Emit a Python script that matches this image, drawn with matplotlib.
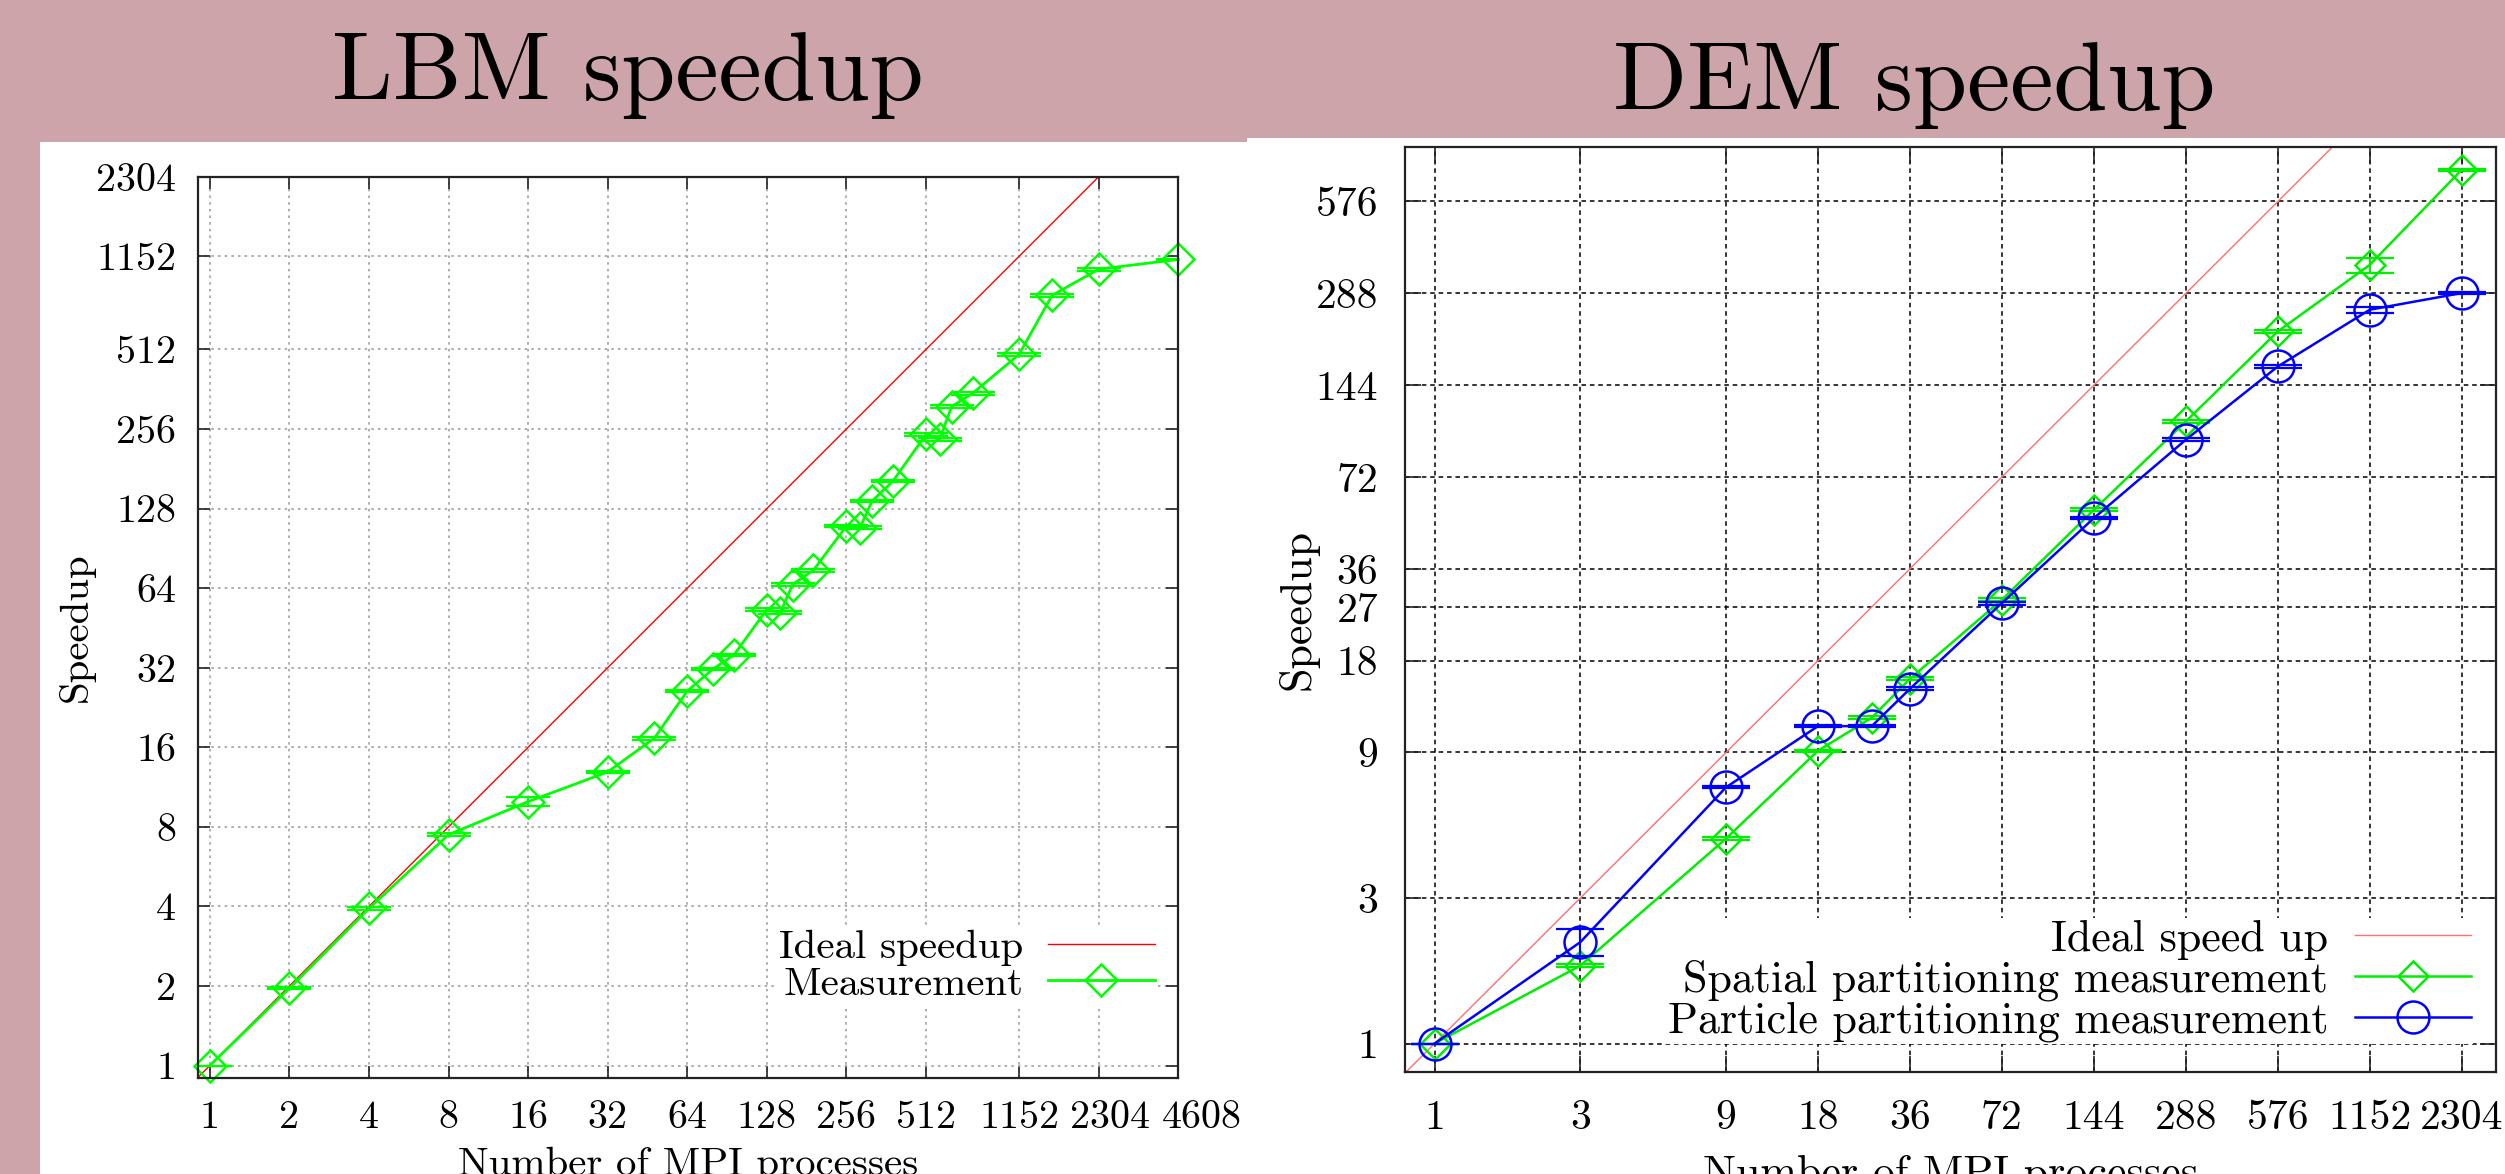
import matplotlib
matplotlib.use("Agg")
import matplotlib.pyplot as plt
from matplotlib.patches import Rectangle
from matplotlib.ticker import NullLocator
from matplotlib.transforms import ScaledTranslation

plt.rcParams['font.family'] = 'cmr10'
plt.rcParams['mathtext.fontset'] = 'cm'
plt.rcParams['axes.unicode_minus'] = False

# ---- LBM speedup data
lbm_procs = [1, 2, 4, 8, 16, 32, 48, 64, 80, 96, 128, 144, 160, 192, 256, 288,
             320, 384, 512, 576, 640, 768, 1152, 1536, 2304, 4608]
lbm_speedup = [1.0, 1.96, 3.93, 7.47, 9.96, 12.9, 17.3, 26.1, 31.6, 35.7, 53.1, 51.6,
               66.0, 74.8, 109.8, 108.3, 136.5, 162.6, 244.0, 233.7, 311.0, 349.0,
               490.0, 820.0, 1029.0, 1121.0]
lbm_err = [0.0, 0.02, 0.04, 0.08, 0.4, 0.15, 0.2, 0.3, 0.35, 0.4, 0.6, 0.6, 0.8, 0.9,
           1.3, 1.3, 1.6, 2.0, 3.0, 3.0, 4.0, 4.0, 6.0, 10.0, 15.0, 5.0]
lbm_xticks = [1, 2, 4, 8, 16, 32, 64, 128, 256, 512, 1152, 2304, 4608]
lbm_yticks = [1, 2, 4, 8, 16, 32, 64, 128, 256, 512, 1152, 2304]

# ---- DEM speedup data
dem_procs = [1, 3, 9, 18, 27, 36, 72, 144, 288, 576, 1152, 2304]
dem_spatial = [1.0, 1.80, 4.70, 9.12, 11.7, 15.7, 28.5, 56.2, 109.5, 216.0, 357.0, 732.0]
dem_spatial_err = [0.0, 0.02, 0.05, 0.08, 0.12, 0.2, 0.3, 0.6, 1.2, 2.5, 20.0, 5.0]
dem_particle = [1.0, 2.15, 6.92, 10.98, 10.98, 14.56, 27.8, 52.8, 95.4, 165.8, 254.5, 288.6]
dem_particle_err = [0.0, 0.22, 0.05, 0.1, 0.1, 0.15, 0.3, 0.5, 1.0, 1.5, 6.0, 2.0]
dem_xticks = [1, 3, 9, 18, 36, 72, 144, 288, 576, 1152, 2304]
dem_yticks = [1, 3, 9, 18, 27, 36, 72, 144, 288, 576]

# ideal speedup y = x
ideal = [0.5, 10000]

W, H = 2505, 1174
PINK = '#cda4a9'
fig = plt.figure(figsize=(W / 100, H / 100), dpi=100, facecolor=PINK)

# white slide panels
fig.add_artist(Rectangle((40 / W, 0), 1207 / W, 1032 / H, transform=fig.transFigure,
                         fc='white', ec='none', zorder=-5))
fig.add_artist(Rectangle((1247 / W, 0), 1258 / W, 1036 / H, transform=fig.transFigure,
                         fc='white', ec='none', zorder=-5))

fig.text(628 / W, 1 - 100 / H, 'LBM speedup', ha='center', va='baseline', fontsize=70)
fig.text(1914 / W, 1 - 110 / H, 'DEM speedup', ha='center', va='baseline', fontsize=70)


def setup(ax, xticks, yticks, fs, ticklen, pad):
    ax.set_xscale('log', base=2)
    ax.set_yscale('log', base=2)
    ax.set_xticks(xticks, labels=[str(t) for t in xticks])
    ax.set_yticks(yticks, labels=[str(t) for t in yticks])
    ax.xaxis.set_minor_locator(NullLocator())
    ax.yaxis.set_minor_locator(NullLocator())
    ax.tick_params(which='major', direction='in', length=ticklen, width=1.2,
                   top=True, right=True, labelsize=fs, pad=pad, colors='#222222',
                   labelcolor='black')
    for sp in ax.spines.values():
        sp.set_linewidth(1.6)
        sp.set_color('#222222')
    ax.set_axisbelow(True)


# ---------------- LBM
ax1 = fig.add_axes([198.4 / W, (H - 1077.6) / H, 979.9 / W, 900.9 / H])
setup(ax1, lbm_xticks, lbm_yticks, 28.8, 8.3, 16)
ax1.grid(True, color='#a0a0a0', linestyle=(0, (1.5, 2.5)), lw=1.2)
ax1.set_xlim(0.905, 4608)
ax1.set_ylim(0.90, 2304)

# the last two x labels sit a bit right of their ticks in the original
shift_px = {2304: 11, 4608: 24}
for t in ax1.xaxis.get_major_ticks():
    v = int(round(t.get_loc()))
    if v in shift_px:
        lab = t.label1
        lab.set_transform(lab.get_transform() +
                          ScaledTranslation(shift_px[v] / 100, 0, fig.dpi_scale_trans))

ax1.plot(ideal, ideal, color='#ff0000', lw=1.0, label='Ideal speedup')
ax1.errorbar(lbm_procs, lbm_speedup, yerr=lbm_err, fmt='none', ecolor='#00ff00',
             elinewidth=1.5, capsize=15.8, capthick=1.6)
ax1.plot(lbm_procs, lbm_speedup, color='#00ff00', lw=2.0, marker='D', ms=16,
         mfc='none', mew=1.8, label='Measurement', clip_on=False)

ax1.set_xlabel('Number of MPI processes', fontsize=29.5)
ax1.set_ylabel('Speedup', fontsize=29.5)
ax1.xaxis.set_label_coords(0.5, -0.077)
ax1.yaxis.set_label_coords(-0.1055, 0.5)

ax1.legend(loc='center right', bbox_to_anchor=(0.978, 0.1239), fontsize=29.5,
           markerfirst=False, frameon=True, fancybox=False, edgecolor='none',
           facecolor='white', framealpha=1, handlelength=2.6, handletextpad=0.6,
           labelspacing=0.0, borderpad=0.05, borderaxespad=0)

# ---------------- DEM
ax2 = fig.add_axes([1405.4 / W, (H - 1072) / H, 1090.8 / W, 925.3 / H])
setup(ax2, dem_xticks, dem_yticks, 30, 11.5, 19.5)
ax2.grid(True, color='black', linestyle=(0, (3, 2.5)), lw=1.1)
ax2.set_xlim(0.803, 2987)
ax2.set_ylim(0.807, 871)

ax2.plot(ideal, ideal, color='#ff6f6f', lw=1.0, label='Ideal speed up')
ax2.errorbar(dem_procs, dem_spatial, yerr=dem_spatial_err, fmt='none', ecolor='#00ee00',
             elinewidth=1.5, capsize=17, capthick=1.6)
ax2.plot(dem_procs, dem_spatial, color='#00ee00', lw=1.8, marker='D', ms=15.5,
         mfc='none', mew=1.8, label='Spatial partitioning measurement', clip_on=False)
ax2.errorbar(dem_procs, dem_particle, yerr=dem_particle_err, fmt='none', ecolor='#0000ff',
             elinewidth=1.5, capsize=17, capthick=1.6)
ax2.plot(dem_procs, dem_particle, color='#0000ff', lw=1.8, marker='o', ms=23,
         mfc='none', mew=1.8, label='Particle partitioning measurement', clip_on=False)

ax2.set_xlabel('Number of MPI processes', fontsize=31.7)
ax2.set_ylabel('Speedup', fontsize=31.7)
ax2.xaxis.set_label_coords(0.5, -0.0897)
ax2.yaxis.set_label_coords(-0.080, 0.5)

ax2.legend(loc='center right', bbox_to_anchor=(0.9787, 0.0985), fontsize=31.7,
           markerfirst=False, frameon=True, fancybox=False, edgecolor='none',
           facecolor='white', framealpha=1, handlelength=2.63, handletextpad=0.61,
           labelspacing=0.0, borderpad=0.05, borderaxespad=0)

fig.savefig('out.png', dpi=100, facecolor=fig.get_facecolor())
